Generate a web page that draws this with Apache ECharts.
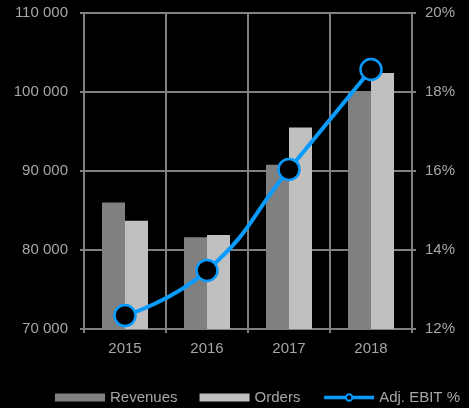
<!DOCTYPE html>
<html>
<head>
<meta charset="utf-8">
<script src="https://cdn.jsdelivr.net/npm/echarts@6/dist/echarts.min.js"></script>
<style>
  html, body { margin: 0; padding: 0; background: #000; }
  #chart { width: 469px; height: 408px; }
</style>
</head>
<body>
<div id="chart"></div>
<script>
// 年份
const years = ["2015", "2016", "2017", "2018"];
// 收入 / 订单
const revenues = [86000, 81600, 90800, 100100];
const orders = [83700, 81900, 95500, 102400];
// 调整后 EBIT %
const ebit = [12.34, 13.48, 16.04, 18.57];

const textColor = "#a6a6a6";
const gridColor = "#808080";
const font = "Liberation Sans, Arial, sans-serif";

const echart = echarts.init(document.getElementById("chart"));
echart.setOption({
  backgroundColor: "#000",
  animation: false,
  textStyle: { fontFamily: font },
  grid: { left: 84, right: 57, top: 13, bottom: 79 },
  legend: {
    top: 385,
    left: 50,
    itemWidth: 50,
    itemHeight: 8,
    itemGap: 22,
    textStyle: { color: textColor, fontSize: 15, fontFamily: font },
    data: [
      { name: "Revenues", icon: "rect" },
      { name: "Orders", icon: "rect" },
      {
        name: "Adj. EBIT %",
        lineStyle: { width: 3.5 },
        itemStyle: { borderWidth: 2 }
      }
    ]
  },
  xAxis: {
    type: "category",
    data: years,
    axisLine: { lineStyle: { color: gridColor, width: 2 } },
    axisTick: { show: true, length: 4, lineStyle: { color: gridColor, width: 2 } },
    splitLine: { show: true, lineStyle: { color: gridColor, width: 2 } },
    axisLabel: { color: textColor, fontSize: 15, margin: 12 }
  },
  yAxis: [
    {
      type: "value",
      min: 70000,
      max: 110000,
      interval: 10000,
      axisLine: { show: true, lineStyle: { color: gridColor, width: 2 } },
      axisTick: { show: true, length: 4, lineStyle: { color: gridColor, width: 2 } },
      splitLine: { show: true, lineStyle: { color: gridColor, width: 2 } },
      axisLabel: {
        color: textColor,
        fontSize: 15,
        margin: 16,
        formatter: v => String(v).replace(/\B(?=(\d{3})+(?!\d))/g, " ")
      }
    },
    {
      type: "value",
      min: 12,
      max: 20,
      interval: 2,
      axisLine: { show: true, lineStyle: { color: gridColor, width: 2 } },
      axisTick: { show: true, length: 4, lineStyle: { color: gridColor, width: 2 } },
      splitLine: { show: false },
      axisLabel: { color: textColor, fontSize: 15, margin: 13, formatter: "{value}%" }
    }
  ],
  series: [
    {
      name: "Revenues",
      type: "bar",
      data: revenues,
      barWidth: 23,
      barGap: "0%",
      itemStyle: { color: "#808080" }
    },
    {
      name: "Orders",
      type: "bar",
      data: orders,
      barWidth: 23,
      itemStyle: { color: "#c0c0c0" }
    },
    {
      name: "Adj. EBIT %",
      type: "line",
      yAxisIndex: 1,
      data: ebit,
      smooth: true,
      symbol: "circle",
      symbolSize: 21,
      lineStyle: { color: "#0a9bff", width: 4 },
      itemStyle: { color: "#000", borderColor: "#0a9bff", borderWidth: 2.5 },
      z: 5
    }
  ]
});
</script>
</body>
</html>
